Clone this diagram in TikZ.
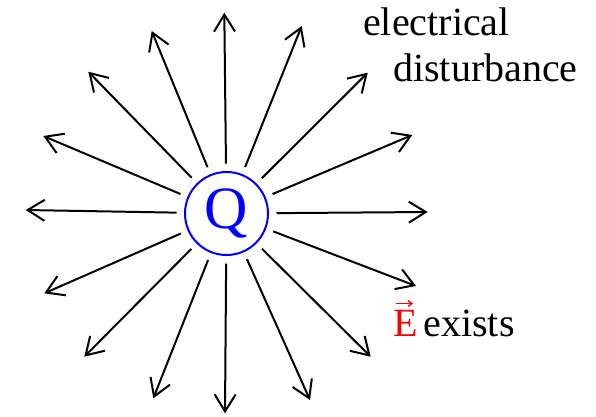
\documentclass[tikz,border=0pt]{standalone}
\usepackage{fontspec}
\setmainfont{Liberation Serif}
\usetikzlibrary{arrows.meta,calc}
\begin{document}
\begin{tikzpicture}[x=1pt,y=-1pt,
  arr/.style={line width=2pt,-{Straight Barb[length=17pt,width=21pt,line width=2pt]},shorten <=7.5pt},
  lbl/.style={anchor=base west,inner sep=0pt,font=\fontsize{40}{48}\selectfont}]
\useasboundingbox (0,0) rectangle (596,416);
\node[circle,draw=blue,line width=2pt,minimum size=83pt,inner sep=0pt,text=blue,
  font=\fontsize{60}{64}\selectfont] (Q) at (226.5,213.5) {\raisebox{-3pt}{Q}};
\foreach \n/\x/\y in {a/427.7/212, b/416/286, c/370.7/356.7, d/310/400, e/225/413.3,
  f/153.3/398.3, g/84.3/356.7, h/44.3/293.3, i/25.7/210, j/43.3/136, k/88.3/71.7,
  l/151.7/31, m/224.3/12.7, n/301.7/26, o/367.7/72.7, p/412.3/135}{
  \coordinate (t\n) at (\x,\y);
  \draw[arr] (Q) -- (t\n);
}
\node[lbl] (el) at (363,35) {electrical};
\node[lbl] (di) at (393,81.7) {disturbance};
\node[lbl,text=red] (E) at (393,336.7) {E};
\coordinate (va) at (396,303.5);
\coordinate (vb) at (413,303.5);
\draw[red,line width=1.3pt,-{Straight Barb[length=4pt,width=6pt,line width=1.3pt]}] (va) -- (vb);
\node[lbl] (ex) at (423.3,336.7) {exists};
\end{tikzpicture}
\end{document}
